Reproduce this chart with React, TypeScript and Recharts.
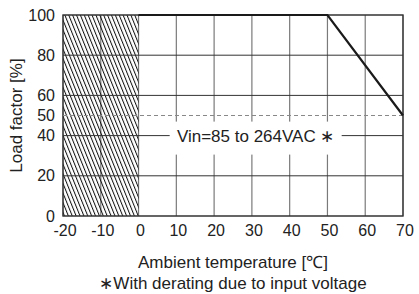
import React from 'react';
import {
  CartesianGrid,
  Line,
  LineChart,
  ReferenceArea,
  ReferenceDot,
  ReferenceLine,
  XAxis,
  YAxis,
} from 'recharts';

// derating curve
const temps = [0, 50, 70];
const loads = [100, 100, 50];

const tempTicks = [-20, -10, 0, 10, 20, 30, 40, 50, 60, 70];
const loadTicks = [0, 20, 40, 50, 60, 80, 100];
const gridLoads = [20, 40, 60, 80];
const hatchRange = [-20, 0];
const inputLimitLoad = 50;

const noteText = 'Vin=85 to 264VAC \u2217';
const noteAt = { temp: 31, load: 40 };
const xTitle = 'Ambient temperature [\u2103]';
const yTitle = 'Load factor [%]';
const footnote = '\u2217With derating due to input voltage';

const FONT = '"Liberation Sans", Arial, Helvetica, sans-serif';
const TEXT = '#222';

const data = temps.map((t, i) => ({ temp: t, load: loads[i] }));

function NoteBox(props: any) {
  const { cx, cy } = props;
  if (cx == null || cy == null) return null;
  return (
    <g>
      <rect x={cx - 86} y={cy - 14} width={172} height={33} fill="#fff" />
      <text
        x={cx}
        y={cy + 1}
        textAnchor="middle"
        dominantBaseline="central"
        fontSize={17}
        fontFamily={FONT}
        fill={TEXT}
      >
        {noteText}
      </text>
    </g>
  );
}

function XTitle(props: any) {
  const vb = props.viewBox || {};
  const cx = vb.x + vb.width / 2;
  return (
    <g fontFamily={FONT} fontSize={17} fill={TEXT}>
      <text x={cx} y={vb.y + 52} textAnchor="middle">
        {xTitle}
      </text>
      <text x={cx} y={vb.y + 73} textAnchor="middle">
        {footnote}
      </text>
    </g>
  );
}

function YTitle(props: any) {
  const vb = props.viewBox || {};
  const cy = vb.y + vb.height / 2;
  return (
    <text
      x={16}
      y={cy}
      transform={`rotate(-90, 16, ${cy})`}
      textAnchor="middle"
      dominantBaseline="central"
      fontFamily={FONT}
      fontSize={17}
      fill={TEXT}
    >
      {yTitle}
    </text>
  );
}

export default function App() {
  return (
    <div style={{ position: 'absolute', left: 0, top: 0, width: 419, height: 294, background: '#fff' }}>
      <LineChart
        width={419}
        height={294}
        data={data}
        margin={{ top: 15, right: 16, bottom: 48, left: 0 }}
        style={{ fontFamily: FONT }}
      >
        <defs>
          <pattern
            id="hatch"
            patternUnits="userSpaceOnUse"
            width={3.6}
            height={10}
            patternTransform="rotate(-22)"
          >
            <line x1={0.5} y1={0} x2={0.5} y2={10} stroke="#111" strokeWidth={1} />
          </pattern>
        </defs>
        <CartesianGrid horizontal={false} stroke="#7a7a7a" strokeWidth={1.2} />
        <ReferenceArea
          x1={hatchRange[0]}
          x2={hatchRange[1]}
          y1={0}
          y2={100}
          fill="url(#hatch)"
          fillOpacity={1}
          stroke="none"
        />
        {gridLoads.map((v) => (
          <ReferenceLine key={v} y={v} stroke="#333" strokeWidth={1} />
        ))}
        <ReferenceLine y={inputLimitLoad} stroke="#888" strokeWidth={1} strokeDasharray="4 3" />
        <ReferenceDot x={noteAt.temp} y={noteAt.load} r={0} shape={NoteBox} />
        <ReferenceArea
          x1={-20}
          x2={70}
          y1={0}
          y2={100}
          fill="none"
          stroke="#333"
          strokeWidth={1.3}
        />
        <XAxis
          type="number"
          dataKey="temp"
          domain={[-20, 70]}
          ticks={tempTicks}
          interval={0}
          axisLine={false}
          tickLine={false}
          tickSize={0}
          tickMargin={9}
          height={30}
          tick={{ fill: TEXT, fontSize: 16, dx: 2 }}
          label={{ content: XTitle }}
        />
        <YAxis
          type="number"
          domain={[0, 100]}
          ticks={loadTicks}
          interval={0}
          axisLine={false}
          tickLine={false}
          tickSize={0}
          tickMargin={8}
          width={63}
          tick={{ fill: TEXT, fontSize: 16 }}
          label={{ content: YTitle }}
        />
        <Line
          type="linear"
          dataKey="load"
          stroke="#1a1a1a"
          strokeWidth={2.2}
          dot={false}
          isAnimationActive={false}
        />
      </LineChart>
    </div>
  );
}
